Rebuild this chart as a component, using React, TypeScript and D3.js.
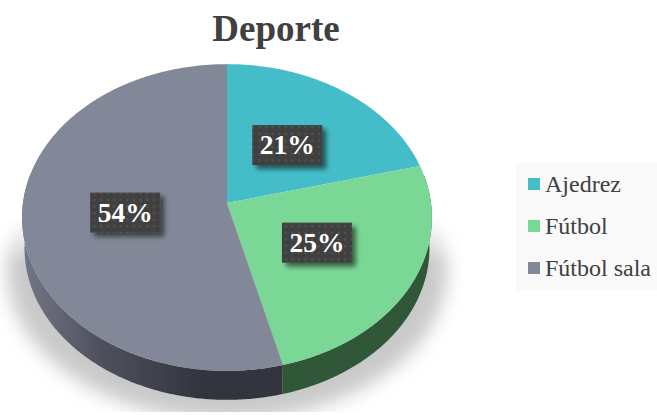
import React from 'react';
import * as d3 from 'd3';

const title = 'Deporte';
const categories = ['Ajedrez', 'Fútbol', 'Fútbol sala'];
const shares = [21, 25, 54];
const topColors = ['#45bdc8', '#7bd795', '#838898'];
const sideColors = ['#2a6f75', '#2f5738', 'url(#sideGray)'];

const W = 657, H = 415;
const cx = 227, cy = 203;
const B = 204, A = 152, K = 0.0945;
const DEPTH = 31;

// Tilted-disc perspective: angle + radius fraction -> screen position
const project = (t: number, r = 1, scale = 1, dy = 0): [number, number] => {
  const x = Math.sin(t) * r, y = -Math.cos(t) * r;
  const w = 1 - K * y;
  return [cx + (B * scale * x) / w, cy + dy + (A * scale * y) / w];
};

const pieGen = d3.pie<number>().sort(null).value(d => d);
const arcs = pieGen(shares);
const line = d3.line();

const rim = (a: number, b: number, scale = 1, dy = 0) => {
  const n = Math.max(2, Math.ceil((b - a) / 0.01));
  return d3.range(n + 1).map(i => project(a + ((b - a) * i) / n, 1, scale, dy));
};

const wedge = (a: number, b: number) => line([[cx, cy], ...rim(a, b)]) + 'Z';
// side wall visible on the lower half of the disc only
const side = (a: number, b: number) => {
  const s = Math.max(a, Math.PI * 0.44), e = Math.min(b, Math.PI * 1.56);
  if (e <= s) return null;
  return line([...rim(s, e), ...rim(s, e, 0.988, DEPTH).reverse()]) + 'Z';
};

const legendY = d3.scalePoint<string>().domain(categories).range([184, 268]);
const serif = '"Liberation Serif", serif';

export default function App() {
  return (
    <svg width={W} height={H} viewBox={`0 0 ${W} ${H}`} style={{ position: 'absolute', left: 0, top: 0, background: '#fff' }}>
      <defs>
        <linearGradient id="sideGray" gradientUnits="userSpaceOnUse" x1="22" x2="200" y1="0" y2="0">
          <stop offset="0" stopColor="#737686" />
          <stop offset="0.45" stopColor="#4e505d" />
          <stop offset="1" stopColor="#33353e" />
        </linearGradient>
        <filter id="blurShadow" x="-20%" y="-20%" width="140%" height="140%">
          <feGaussianBlur stdDeviation="9" />
        </filter>
        <filter id="boxShadow" x="-30%" y="-30%" width="160%" height="160%">
          <feGaussianBlur in="SourceAlpha" stdDeviation="2.5" />
          <feOffset dx="4" dy="4" />
          <feComponentTransfer><feFuncA type="linear" slope="0.55" /></feComponentTransfer>
          <feMerge><feMergeNode /><feMergeNode in="SourceGraphic" /></feMerge>
        </filter>
        <pattern id="dots" width="6.6" height="6.6" patternUnits="userSpaceOnUse">
          <rect width="6.6" height="6.6" fill="#404040" />
          <rect x="1" y="1" width="2" height="2" fill="#555555" />
        </pattern>
        <linearGradient id="shadowFade" gradientUnits="userSpaceOnUse" x1="0" x2="0" y1="215" y2="265">
          <stop offset="0" stopColor="#fff" stopOpacity="0" />
          <stop offset="1" stopColor="#fff" stopOpacity="1" />
        </linearGradient>
        <mask id="shadowMask" maskUnits="userSpaceOnUse" x="0" y="0" width={W} height={H}>
          <rect x="0" y="0" width={W} height="412" fill="url(#shadowFade)" />
        </mask>
      </defs>

      <g mask="url(#shadowMask)">
        <ellipse cx={cx} cy={270} rx={220} ry={150} fill="#c9c9c9" filter="url(#blurShadow)" />
      </g>

      {arcs.map((a, i) => {
        const d = side(a.startAngle, a.endAngle);
        return d ? <path key={i} d={d} fill={sideColors[i]} /> : null;
      })}
      {arcs.map((a, i) => (
        <path key={i} d={wedge(a.startAngle, a.endAngle)} fill={topColors[i]} />
      ))}

      {arcs.map((a, i) => {
        const [x, y] = project((a.startAngle + a.endAngle) / 2, 0.5);
        return (
          <g key={i}>
            <rect x={x - 35} y={y - 20} width={70} height={40} fill="url(#dots)" filter="url(#boxShadow)" />
            <text x={x} y={y + 9} textAnchor="middle" fontFamily={serif} fontWeight="bold" fontSize={27.5} fill="#fff">
              {shares[i]}%
            </text>
          </g>
        );
      })}

      <text x={276} y={41} textAnchor="middle" fontFamily={serif} fontWeight="bold" fontSize={37} fill="#404040">{title}</text>

      <rect x={516} y={163} width={141} height={127} fill="#f9f9f9" />
      {categories.map((c, i) => {
        const y = legendY(c) as number;
        return (
          <g key={c}>
            <rect x={528} y={y - 6} width={12} height={12} fill={topColors[i]} />
            <text x={545} y={y + 8} fontFamily={serif} fontSize={24} fill="#404040">{c}</text>
          </g>
        );
      })}
    </svg>
  );
}
